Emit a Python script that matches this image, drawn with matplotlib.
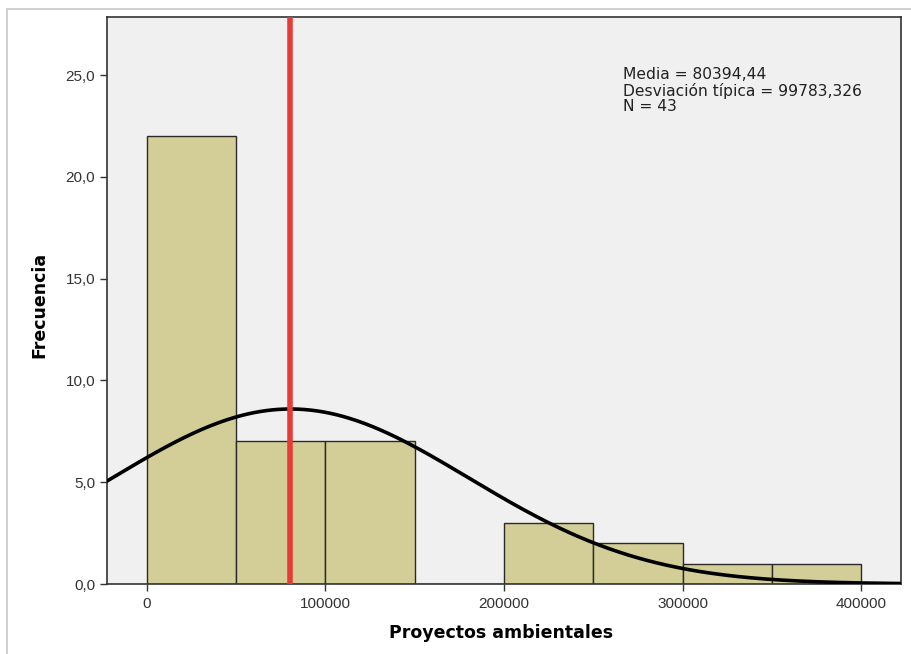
import numpy as np
import matplotlib
matplotlib.use("Agg")
import matplotlib.pyplot as plt
from matplotlib.patches import Rectangle

# Data
bin_edges = [0, 50000, 100000, 150000, 200000, 250000, 300000, 350000, 400000]
counts = [22, 7, 7, 0, 3, 2, 1, 1]
mean_val = 80394.44
std_val = 99783.326
n_val = 43
x_ticks = [0, 100000, 200000, 300000, 400000]
y_ticks = [0.0, 5.0, 10.0, 15.0, 20.0, 25.0]
x_label = "Proyectos ambientales"
y_label = "Frecuencia"

plt.rcParams['font.family'] = ['Liberation Sans', 'DejaVu Sans']

fig = plt.figure(figsize=(9.11, 6.54), dpi=100)
fig.patch.set_facecolor('white')

# outer frame
fig.patches.append(Rectangle((7/911, -0.1), 1.2, 1 - 9/654 + 0.1, transform=fig.transFigure,
                             fill=False, edgecolor='#c8c8c8', linewidth=1.2, zorder=0))

ax = fig.add_axes([107/911, 1 - 584/654, (901 - 107)/911, (584 - 17)/654])
ax.set_facecolor('#f0f0f0')

lefts = bin_edges[:-1]
widths = np.diff(bin_edges)
ax.bar(lefts, counts, width=widths, align='edge', color='#d3ce97',
       edgecolor='#2a2a2a', linewidth=1.0, zorder=2)

xlim = (-22400, 422400)
xs = np.linspace(xlim[0], xlim[1], 500)
bw = bin_edges[1] - bin_edges[0]
ys = n_val * bw / (std_val * np.sqrt(2 * np.pi)) * np.exp(-0.5 * ((xs - mean_val) / std_val) ** 2)
ax.plot(xs, ys, color='black', linewidth=2.6, zorder=3)

ax.axvline(mean_val, color='#e63b36', linewidth=4, zorder=4)

ax.set_xlim(*xlim)
ax.set_ylim(0, 27.85)
ax.set_xticks(x_ticks)
ax.set_xticklabels([f"{v}" for v in x_ticks], fontsize=11, color='#333333')
ax.set_yticks(y_ticks)
ax.set_yticklabels([f"{v:.1f}".replace('.', ',') for v in y_ticks], fontsize=11, color='#333333')
ax.tick_params(axis='both', direction='out', length=5, width=1, colors='#333333', labelcolor='#333333')
ax.tick_params(axis='x', pad=4)
for s in ax.spines.values():
    s.set_color('#333333')
    s.set_linewidth(1.2)

ax.set_xlabel(x_label, fontsize=12.5, fontweight='bold', family=['DejaVu Sans'])
ax.xaxis.set_label_coords(0.496, -0.0705)
ax.set_ylabel(y_label, fontsize=12.5, fontweight='bold', family=['DejaVu Sans'])
ax.yaxis.set_label_coords(-0.0743, 0.492)

ax.text(0.65, 0.911,
        f"Media = {mean_val:.2f}".replace('.', ',') + "\n" +
        f"Desviación típica = {std_val:.3f}".replace('.', ',') + "\n" +
        f"N = {n_val}",
        transform=ax.transAxes, fontsize=11.2, color='#222222', va='top', ha='left',
        linespacing=1.02, family=['DejaVu Sans'])

fig.savefig('out.png', dpi=100)
